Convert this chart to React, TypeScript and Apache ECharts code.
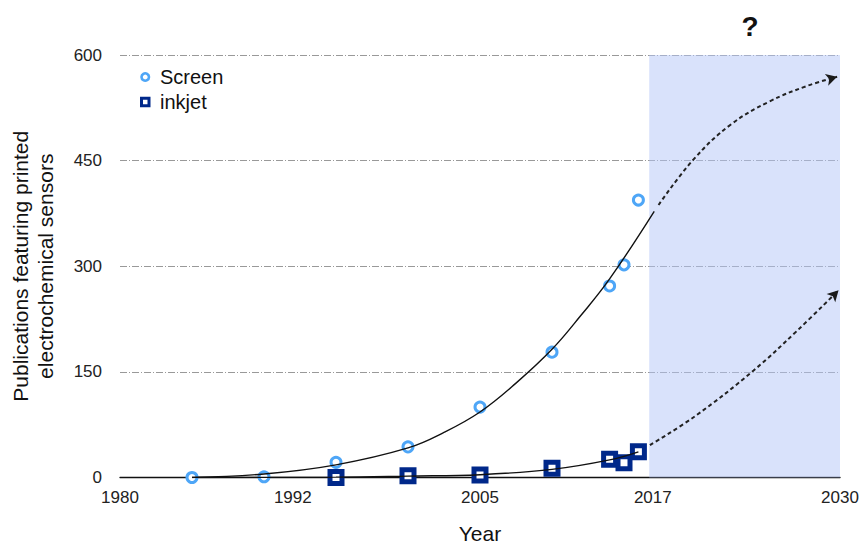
import React, { useEffect, useRef } from "react";
import * as echarts from "echarts";

// ---- data ----
const xTickLabels = [1980, 1992, 2005, 2017, 2030];
const yTickStep = 150;

const screenYears = [1985, 1990, 1995, 2000, 2005, 2010, 2014, 2015, 2016];
const screenValues = [0, 1, 21.5, 43.5, 100, 178, 272, 302, 394];

const inkjetYears = [1995, 2000, 2005, 2010, 2014, 2015, 2016];
const inkjetValues = [0, 2.5, 3.5, 13, 26, 21, 36.7];

const screenTrendYears = [1985, 1990, 1995, 2000, 2002.5, 2005, 2007.5, 2010, 2012, 2014, 2017.1];
const screenTrendValues = [0, 5, 18, 42, 64, 93, 134, 182, 230, 282, 378];
const screenForecastYears = [2017.4, 2019.8, 2022.4, 2025.1, 2027.7, 2029.8];
const screenForecastValues = [387, 451, 501, 534, 556, 569];

const inkjetTrendYears = [1985, 1995, 2000, 2005, 2010, 2014, 2016];
const inkjetTrendValues = [0, 0.5, 2, 4, 11.5, 25, 36.5];
const inkjetForecastYears = [2016.8, 2020, 2024, 2027, 2029.9];
const inkjetForecastValues = [46, 88, 152, 208, 266];

const forecastStart = 2016.75;
const forecastEnd = 2030;

const FONT = "'Liberation Sans', Arial, Helvetica, sans-serif";
const SCREEN_COLOR = "#4ea6f7";
const INKJET_COLOR = "#00288a";

const zip = (xs: number[], ys: number[]) => xs.map((x, i) => [x, ys[i]]);

const withArrow = (pts: number[][], rotate: number) =>
  pts.map((p, i) =>
    i === pts.length - 1
      ? {
          value: p,
          symbol: "arrow",
          symbolSize: [9, 11],
          symbolRotate: rotate,
          itemStyle: { color: "#1a1a1a" },
        }
      : { value: p }
  );

export default function App() {
  const ref = useRef<HTMLDivElement>(null);

  useEffect(() => {
    if (!ref.current) return;
    const chart = echarts.init(ref.current, undefined, { renderer: "svg" });

    const trendLine = {
      type: "line",
      smooth: 0.4,
      symbol: "none",
      showSymbol: false,
      silent: true,
      z: 4,
      lineStyle: { color: "#111", width: 1.4 },
    };
    const forecastLine = {
      type: "line",
      smooth: 0.4,
      symbol: "none",
      showSymbol: true,
      silent: true,
      z: 4,
      lineStyle: { color: "#222", width: 2, type: [4, 3], cap: "butt" },
    };

    const option: any = {
      animation: false,
      textStyle: { fontFamily: FONT },
      grid: {
        left: 120,
        right: 22,
        top: 55,
        bottom: 65.5,
        containLabel: false,
        outerBoundsMode: "none",
      },
      legend: {
        orient: "vertical",
        left: 135,
        top: 62,
        itemWidth: 7.5,
        itemHeight: 7.5,
        itemGap: 5,
        textStyle: { fontSize: 20, color: "#111", fontFamily: FONT, padding: [0, 0, 0, 6] },
        data: [
          { name: "Screen", itemStyle: { borderWidth: 2.6 } },
          { name: "inkjet", itemStyle: { borderWidth: 3 } },
        ],
      },
      xAxis: {
        type: "value",
        min: 1980,
        max: 2030,
        name: "Year",
        nameLocation: "middle",
        nameGap: 45,
        nameTextStyle: { fontSize: 21, color: "#111", fontFamily: FONT },
        axisLine: { show: true, onZero: true, lineStyle: { color: "#111", width: 1.3 } },
        axisTick: { show: false },
        splitLine: { show: false },
        axisLabel: {
          customValues: xTickLabels,
          formatter: (v: number) => String(v),
          fontSize: 17,
          color: "#222",
          margin: 11,
          fontFamily: FONT,
        },
      },
      yAxis: {
        type: "value",
        min: 0,
        max: 600,
        interval: yTickStep,
        name: "Publications featuring printed\nelectrochemical sensors",
        nameLocation: "middle",
        nameRotate: 90,
        nameGap: 62,
        nameTextStyle: { fontSize: 21, lineHeight: 25, color: "#111", fontFamily: FONT },
        axisLine: { show: false },
        axisTick: { show: false },
        axisLabel: { fontSize: 17, color: "#222", margin: 18, fontFamily: FONT },
        splitLine: {
          show: true,
          lineStyle: { color: "#999", width: 1, type: [7, 2, 1, 2] },
        },
      },
      graphic: [
        {
          type: "text",
          x: 750,
          y: 26,
          style: {
            text: "?",
            fontSize: 28,
            fontWeight: "bold",
            fontFamily: FONT,
            fill: "#111",
            align: "center",
            verticalAlign: "middle",
            textAlign: "center",
            textVerticalAlign: "middle",
          },
        },
      ],
      series: [
        {
          name: "forecast",
          type: "line",
          data: [],
          silent: true,
          markArea: {
            silent: true,
            itemStyle: { color: "rgba(179,197,247,0.5)" },
            data: [[{ xAxis: forecastStart }, { xAxis: forecastEnd }]],
          },
        },
        {
          name: "Screen",
          type: "scatter",
          symbol: "circle",
          symbolSize: 10,
          z: 3,
          itemStyle: {
            color: "#ffffff",
            borderColor: SCREEN_COLOR,
            borderWidth: 3,
            opacity: 1,
          },
          data: zip(screenYears, screenValues),
        },
        {
          name: "inkjet",
          type: "scatter",
          symbol: "rect",
          symbolSize: 12,
          z: 3,
          itemStyle: {
            color: "#ffffff",
            borderColor: INKJET_COLOR,
            borderWidth: 5,
            opacity: 1,
          },
          data: zip(inkjetYears, inkjetValues),
        },
        { ...trendLine, name: "screenTrend", data: zip(screenTrendYears, screenTrendValues) },
        { ...trendLine, name: "inkjetTrend", data: zip(inkjetTrendYears, inkjetTrendValues) },
        {
          ...forecastLine,
          name: "screenForecast",
          data: withArrow(zip(screenForecastYears, screenForecastValues), -74),
        },
        {
          ...forecastLine,
          name: "inkjetForecast",
          data: withArrow(zip(inkjetForecastYears, inkjetForecastValues), -44),
        },
      ],
    };

    chart.setOption(option);
    return () => chart.dispose();
  }, []);

  return (
    <div
      ref={ref}
      style={{ position: "absolute", left: 0, top: 0, width: 862, height: 543, background: "#fff" }}
    />
  );
}
